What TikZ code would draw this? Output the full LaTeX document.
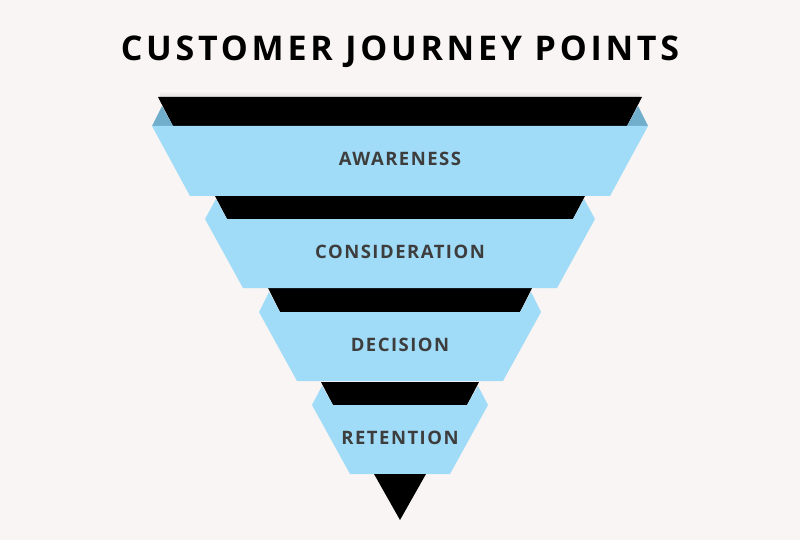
\documentclass[tikz,border=0pt]{standalone}
\usepackage{fontspec}
\newfontfamily\titlefont[LetterSpace=11]{Open Sans}
\newfontfamily\labelfont[LetterSpace=8]{Open Sans}
\definecolor{bg}{HTML}{F9F5F4}
\definecolor{bandblue}{HTML}{A0DBF7}
\definecolor{foldblue}{HTML}{70AECC}
\definecolor{labelgray}{HTML}{3D3D3D}
\tikzset{
  band/.style={fill=bandblue},
  blackband/.style={fill=black},
  fold/.style={fill=bandblue},
  darkfold/.style={fill=foldblue},
  bandlabel/.style={font=\labelfont\fontsize{18.5pt}{22pt}\selectfont\bfseries, text=labelgray, inner sep=0pt},
  titlelabel/.style={font=\titlefont\fontsize{34pt}{40pt}\selectfont\bfseries, text=black, inner sep=0pt}
}
\begin{document}
\begin{tikzpicture}[x=1pt,y=-1pt]
\fill[bg] (0,0) rectangle (800,540);
\useasboundingbox (0,0) rectangle (800,540);
% subtle shadow above first black band
\shade[top color=bg, bottom color=black!12] (160,91) rectangle (640,97);
% black bands
\fill[blackband] (158,97) -- (642,97) -- (627,126) -- (173,126) -- cycle;
\fill[blackband] (215,196) -- (585,196) -- (573,219) -- (227,219) -- cycle;
\fill[blackband] (268,288) -- (532,288) -- (520,312) -- (280,312) -- cycle;
\fill[blackband] (321,382) -- (479,382) -- (467,405) -- (333,405) -- cycle;
% folds
\fill[darkfold] (152,126) -- (173,126) -- (162,106) -- cycle;
\fill[darkfold] (648,126) -- (627,126) -- (638,106) -- cycle;
\fill[fold] (205,219) -- (227,219) -- (216,199) -- cycle;
\fill[fold] (595,219) -- (573,219) -- (584,199) -- cycle;
\fill[fold] (259,312) -- (280,312) -- (269,292) -- cycle;
\fill[fold] (541,312) -- (520,312) -- (531,292) -- cycle;
\fill[fold] (312,405) -- (333,405) -- (322,386) -- cycle;
\fill[fold] (488,405) -- (467,405) -- (478,386) -- cycle;
% bands
\fill[band] (152,126) -- (648,126) -- (610,196) -- (190,196) -- cycle;
\fill[band] (205,219) -- (595,219) -- (557,288) -- (243,288) -- cycle;
\fill[band] (259,312) -- (541,312) -- (503,381) -- (297,381) -- cycle;
\fill[band] (312,405) -- (488,405) -- (450,474) -- (350,474) -- cycle;
% tip
\fill[blackband] (374,474) -- (426,474) -- (400,520) -- cycle;
% labels
\node[titlelabel] (title) at (400,52) {CUSTOMER JOURNEY POINTS};
\node[bandlabel] (awareness) at (400,159) {AWARENESS};
\node[bandlabel] (consideration) at (400,252) {CONSIDERATION};
\node[bandlabel] (decision) at (400,345) {DECISION};
\node[bandlabel] (retention) at (400,438) {RETENTION};
\end{tikzpicture}
\end{document}
